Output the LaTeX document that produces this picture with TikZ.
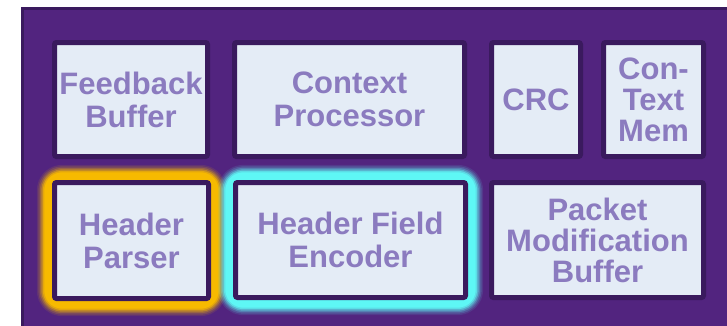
\documentclass[tikz,border=0pt]{standalone}
\usepackage{fontspec}
\setmainfont{Liberation Sans}
\definecolor{panelbg}{HTML}{52247F}
\definecolor{paneledge}{HTML}{3A1A5E}
\definecolor{boxfill}{HTML}{E4ECF6}
\definecolor{boxtext}{HTML}{8B7BBF}
\definecolor{glowgold}{HTML}{F7BA00}
\definecolor{glowcyan}{HTML}{5EF7F5}
\tikzset{
  block/.style={draw=paneledge, line width=5pt, fill=boxfill, rounded corners=2pt,
    inner sep=0pt, align=center, text=boxtext,
    font=\fontsize{31}{33}\selectfont\bfseries},
  tightlines/.style={font=\fontsize{31}{31}\selectfont\bfseries},
}
% soft halo: stacked strokes, widest faintest
\newcommand{\glowaround}[2]{%
  \foreach \w/\o in {35/0.1, 32/0.16, 29/0.25, 26/0.4, 23/0.65, 20/1}{
    \draw[#2, line width=\w pt, opacity=\o, rounded corners=8pt, line join=round]
      (#1.north west) rectangle (#1.south east);
  }%
}
\begin{document}
\begin{tikzpicture}[x=1pt, y=-1pt]
  \useasboundingbox (0,0) rectangle (727,325);
  \clip (0,0) rectangle (727,325);
  % panel
  \draw[fill=panelbg, draw=paneledge, line width=3.5pt] (22.5,8.5) rectangle (740,340);

  % top row
  \node[block, minimum width=153pt, minimum height=114pt] (fb) at (131,99.5) {Feedback\\Buffer};
  \node[block, minimum width=230pt, minimum height=114pt] (cp) at (349.5,99.5) {Context\\Processor};
  \node[block, minimum width=89pt, minimum height=114pt] (crc) at (536,99.5) {CRC};
  \node[block, tightlines, minimum width=100pt, minimum height=114pt] (cm) at (653.5,99.5) {Con-\\Text\\Mem};

  % bottom row: glows first, boxes on top
  \coordinate (hpc) at (131.5,240.5);
  \coordinate (hfc) at (350.5,240);
  \node[minimum width=154pt, minimum height=116pt, inner sep=0pt] (hpglow) at (hpc) {};
  \node[minimum width=230pt, minimum height=115pt, inner sep=0pt] (hfglow) at (hfc) {};
  \glowaround{hpglow}{glowgold}
  \glowaround{hfglow}{glowcyan}

  \node[block, minimum width=154pt, minimum height=116pt] (hp) at (hpc) {Header\\Parser};
  \node[block, minimum width=230pt, minimum height=115pt] (hf) at (hfc) {Header Field\\Encoder};
  \node[block, tightlines, minimum width=212pt, minimum height=115pt] (pmb) at (597.5,240) {Packet\\Modification\\Buffer};
\end{tikzpicture}
\end{document}
